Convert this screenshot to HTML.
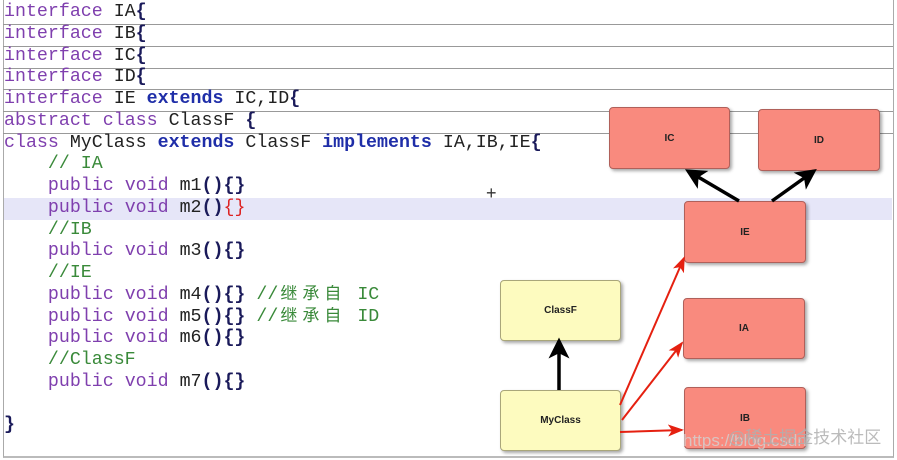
<!DOCTYPE html>
<html><head><meta charset="utf-8"><style>
html,body{margin:0;padding:0;background:#fff;}
body{width:897px;height:460px;position:relative;overflow:hidden;}
.frame{position:absolute;left:3px;top:0;width:889px;height:456px;border-left:1px solid #aaa;border-right:1px solid #aaa;border-bottom:2px solid #bbb;}
.code{position:absolute;left:4px;top:2px;font-family:"Liberation Mono","Noto Sans CJK SC",monospace;font-size:18.3px;color:#222;}
.ln{height:21.75px;line-height:21.75px;white-space:pre;overflow:hidden;}
.k{color:#7f3fae;}
.b{color:#1f2ea8;font-weight:bold;}
.c{color:#3a8a3a;}
.p{color:#1a1a5a;font-weight:bold;}
.r{color:#d22;}
.cj{font-family:"Noto Sans CJK SC",sans-serif;font-size:17px;line-height:8px;letter-spacing:5px;padding-left:2px;}
.sep{position:absolute;left:3px;width:890px;height:1px;background:#999;}
.hl{position:absolute;left:4px;top:198px;width:888px;height:22px;background:#e6e6f8;}
.box{position:absolute;border:1px solid #b0605a;border-radius:4px;background:#f98a7e;box-shadow:2px 2px 3px rgba(0,0,0,.35);font-family:"Liberation Sans",sans-serif;font-size:10px;font-weight:bold;display:flex;align-items:center;justify-content:center;color:#222;}
.y{background:#fdfbbf;border-color:#a9a67a;}
.wm{position:absolute;font-family:"Liberation Sans","Noto Sans CJK SC",sans-serif;white-space:nowrap;}
</style></head><body>
<div class="frame"></div>
<div class="hl"></div>
<div class="sep" style="top:24px"></div>
<div class="sep" style="top:46px"></div>
<div class="sep" style="top:68px"></div>
<div class="sep" style="top:89px"></div>
<div class="sep" style="top:111px"></div>
<div class="sep" style="top:133px"></div>
<div class="code"><div class="ln"><span class="k">interface</span> IA<span class="p">{</span></div><div class="ln"><span class="k">interface</span> IB<span class="p">{</span></div><div class="ln"><span class="k">interface</span> IC<span class="p">{</span></div><div class="ln"><span class="k">interface</span> ID<span class="p">{</span></div><div class="ln"><span class="k">interface</span> IE <span class="b">extends</span> IC,ID<span class="p">{</span></div><div class="ln"><span class="k">abstract</span> <span class="k">class</span> ClassF <span class="p">{</span></div><div class="ln"><span class="k">class</span> MyClass <span class="b">extends</span> ClassF <span class="b">implements</span> IA,IB,IE<span class="p">{</span></div><div class="ln">    <span class="c">// IA</span></div><div class="ln">    <span class="k">public</span> <span class="k">void</span> m1<span class="p">(){}</span></div><div class="ln">    <span class="k">public</span> <span class="k">void</span> m2<span class="p">()</span><span class="r">{}</span></div><div class="ln">    <span class="c">//IB</span></div><div class="ln">    <span class="k">public</span> <span class="k">void</span> m3<span class="p">(){}</span></div><div class="ln">    <span class="c">//IE</span></div><div class="ln">    <span class="k">public</span> <span class="k">void</span> m4<span class="p">(){}</span> <span class="c">//<span class="cj">继承自</span> IC</span></div><div class="ln">    <span class="k">public</span> <span class="k">void</span> m5<span class="p">(){}</span> <span class="c">//<span class="cj">继承自</span> ID</span></div><div class="ln">    <span class="k">public</span> <span class="k">void</span> m6<span class="p">(){}</span></div><div class="ln">    <span class="c">//ClassF</span></div><div class="ln">    <span class="k">public</span> <span class="k">void</span> m7<span class="p">(){}</span></div><div class="ln"> </div><div class="ln"><span class="p">}</span></div></div>
<div style="position:absolute;left:486px;top:183px;font:18px 'Liberation Sans',sans-serif;color:#333;">+</div>

<div class="box" style="left:609px;top:107px;width:119px;height:60px;">IC</div>
<div class="box" style="left:758px;top:109px;width:120px;height:60px;">ID</div>
<div class="box" style="left:684px;top:201px;width:120px;height:60px;">IE</div>
<div class="box" style="left:683px;top:298px;width:120px;height:59px;">IA</div>
<div class="box" style="left:684px;top:387px;width:120px;height:60px;">IB</div>
<div class="box y" style="left:500px;top:280px;width:119px;height:59px;">ClassF</div>
<div class="box y" style="left:500px;top:390px;width:119px;height:59px;">MyClass</div>

<svg width="897" height="460" style="position:absolute;left:0;top:0">
<defs>
<marker id="ab" markerWidth="6" markerHeight="6" refX="5" refY="3" orient="auto" markerUnits="strokeWidth"><path d="M0,0 L6,3 L0,6 L1.5,3 z" fill="#000"/></marker>
<marker id="ar" markerWidth="8" markerHeight="6" refX="7" refY="3" orient="auto" markerUnits="strokeWidth"><path d="M0,0 L8,3 L0,6 L2,3 z" fill="#e52010"/></marker>
</defs>
<g stroke="#000" stroke-width="3.5" fill="none">
<line x1="739" y1="201" x2="688" y2="171" marker-end="url(#ab)"/>
<line x1="772" y1="201" x2="814" y2="171" marker-end="url(#ab)"/>
<line x1="559" y1="390" x2="559" y2="341" marker-end="url(#ab)"/>
</g>
<g stroke="#e52010" stroke-width="2" fill="none">
<line x1="620" y1="405" x2="684" y2="258" marker-end="url(#ar)"/>
<line x1="622" y1="420" x2="682" y2="343" marker-end="url(#ar)"/>
<line x1="620" y1="432" x2="682" y2="430" marker-end="url(#ar)"/>
</g>
</svg>
<div class="wm" style="left:683px;top:431px;font-size:17px;color:rgba(210,210,210,.8);">https://blog.csdn</div>
<div class="wm" style="left:728px;top:423px;font-size:17px;color:rgba(175,175,175,.85);">@稀土掘金技术社区</div>
</body></html>
